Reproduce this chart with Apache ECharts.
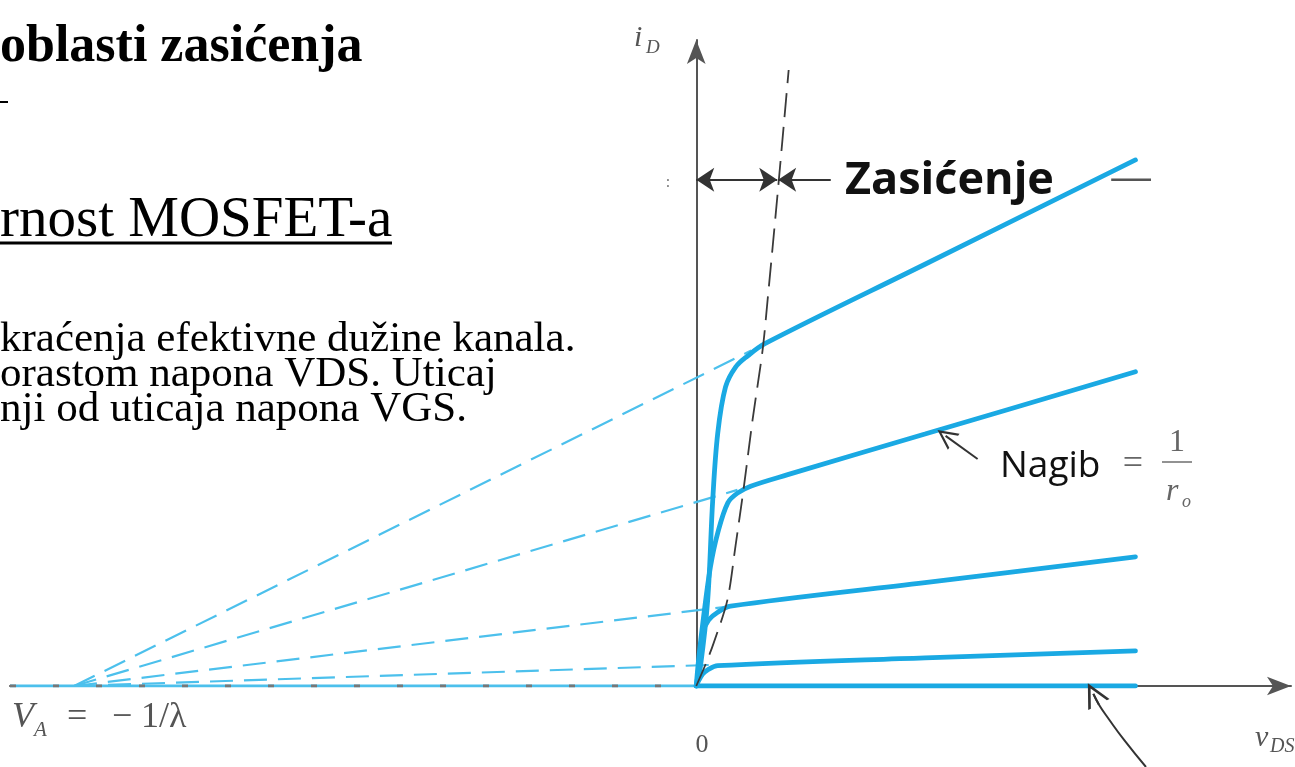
<!DOCTYPE html>
<html>
<head>
<meta charset="utf-8">
<script src="https://cdn.jsdelivr.net/npm/echarts@6/dist/echarts.min.js"></script>
<style>
html,body{margin:0;padding:0;background:#fff;}
#c{width:1295px;height:767px;}
</style>
</head>
<body>
<div id="c"></div>
<script>
// ---- data (arbitrary units: x = vDS, y = iD) ----
const vA = -13.6;          // V_A = -1/lambda
const vEnd = 9.6;          // end of drawn characteristics
const curve1X = [0, 0.09, 0.25, 0.36, 0.47, 0.64, 0.86, 1.12, 1.5, 5.0, 9.6];
const curve1Y = [0, 0.41, 1.86, 4.03, 5.48, 6.48, 6.91, 7.15, 7.42, 9.14, 11.40];
const curve2X = [0, 0.05, 0.16, 0.31, 0.47, 0.69, 0.90, 1.19, 2.0, 5.0, 9.6];
const curve2Y = [0, 0.56, 1.50, 2.58, 3.32, 3.97, 4.18, 4.33, 4.58, 5.46, 6.81];
const curve3X = [0, 0.03, 0.14, 0.27, 0.47, 0.75, 5.0, 9.6];
const curve3Y = [0, 0.20, 1.15, 1.43, 1.60, 1.73, 2.24, 2.80];
const curve4X = [0, 0.03, 0.14, 0.25, 0.47, 5.0, 9.6];
const curve4Y = [0, 0.07, 0.26, 0.35, 0.44, 0.61, 0.76];
const curve5X = [0, 9.6];
const curve5Y = [0, 0];
// extrapolated (dashed) lines: from V_A to the knee of each curve
const extrapEndX = [1.2, 0.9, 0.6, 0.3];
const extrapEndY = [7.27, 4.25, 1.71, 0.456];
// saturation boundary (black dashed)
const boundaryX = [0, 0.20, 0.38, 0.68, 0.86, 1.04, 1.23, 1.45, 1.56, 1.78, 2.02];
const boundaryY = [0, 0.46, 0.93, 1.86, 3.05, 4.31, 5.76, 7.28, 8.37, 10.69, 13.35];
// annotation arrows
const zasY = 10.97;
const zasBoundaryX = 1.77;
const zasRightX = 2.94;
const nagibFrom = [6.15, 4.92];
const nagibTo = [5.45, 5.42];
const cutoffArrowX = [9.83, 9.36, 9.02, 8.80, 8.68];
const cutoffArrowY = [-1.755, -1.180, -0.720, -0.400, -0.17];
const dashTickX = [9.07, 9.94];

const xMin = -15, xMax = 13, yMin = 0, yMax = 14;

const zip = (a, b) => a.map((v, i) => [v, b[i]]);
const solidBlue = '#1aa9e3';
const lightBlue = '#4cc0ec';
const grayAx = '#555';
const chevron = 'path://M10,0 L20,16 L17.5,16 L10,4 L2.5,16 L0,16 Z';

const chart = echarts.init(document.getElementById('c'), null, {renderer: 'canvas'});

function curve(xs, ys) {
  return {type: 'line', data: zip(xs, ys), showSymbol: false, symbol: 'none', smooth: 0.35,
    lineStyle: {color: solidBlue, width: 4.8, cap: 'round'}, z: 5, silent: true};
}
function dashed(i) {
  return {type: 'line', data: [[vA, 0], [extrapEndX[i], extrapEndY[i]]], symbol: 'none',
    lineStyle: {color: lightBlue, width: 2.2, type: [23, 11]}, z: 3, silent: true};
}
function arrow(coords, syms, size) {
  return {type: 'lines', coordinateSystem: 'cartesian2d', polyline: false,
    symbol: syms, symbolSize: size || 16, clip: false, silent: true, z: 8,
    lineStyle: {color: '#333', width: 2, opacity: 1, curveness: 0},
    data: [{coords: coords}]};
}

const serif = '"Liberation Serif", "Times New Roman", serif';
const sans = '"Open Sans", "Noto Sans", sans-serif';
function txt(x, y, text, font, fill, align) {
  return {type: 'text', x: x, y: y, silent: true, z: 20,
    style: {text: text, font: font, fill: fill || '#000', textAlign: align || 'left',
      textVerticalAlign: 'middle', align: align || 'left', verticalAlign: 'middle'}};
}
function seg(x1, y1, x2, y2, color, w) {
  return {type: 'line', silent: true, z: 20, shape: {x1: x1, y1: y1, x2: x2, y2: y2},
    style: {stroke: color, lineWidth: w}};
}

const n = cutoffArrowX.length;
const option = {
  animation: false,
  grid: {left: 10, right: 4, top: 40, bottom: 81, containLabel: false},
  xAxis: {type: 'value', min: xMin, max: xMax,
    axisLine: {show: true, onZero: true, symbol: ['none', 'arrow'], symbolSize: [14, 24], symbolOffset: [0, 0],
      lineStyle: {color: grayAx, width: 2}},
    axisTick: {show: false}, axisLabel: {show: false}, splitLine: {show: false}},
  yAxis: {type: 'value', min: yMin, max: yMax,
    axisLine: {show: true, onZero: true, symbol: ['none', 'arrow'], symbolSize: [14, 24], symbolOffset: [0, 0],
      lineStyle: {color: grayAx, width: 2}},
    axisTick: {show: false}, axisLabel: {show: false}, splitLine: {show: false}},
  series: [
    {type: 'line', data: [[xMin, 0], [0, 0]], symbol: 'none', lineStyle: {color: lightBlue, width: 3}, z: 2, silent: true},
    {type: 'line', data: [[xMin, 0], [0, 0]], symbol: 'none', lineStyle: {color: '#777', width: 3, type: [6, 37]}, z: 4, silent: true},
    dashed(0), dashed(1), dashed(2), dashed(3),
    curve(curve1X, curve1Y), curve(curve2X, curve2Y), curve(curve3X, curve3Y), curve(curve4X, curve4Y),
    curve(curve5X, curve5Y),
    {type: 'line', data: zip(boundaryX, boundaryY), symbol: 'none', smooth: 0.3,
      lineStyle: {color: '#3a3a3a', width: 1.8, type: [24, 10]}, z: 6, silent: true},
    arrow([[0, zasY], [zasBoundaryX, zasY]], ['arrow', 'arrow'], 18),
    arrow([[zasRightX, zasY], [zasBoundaryX + 0.02, zasY]], ['none', 'arrow'], 18),
    {type: 'line', data: [[dashTickX[0], zasY], [dashTickX[1], zasY]], symbol: 'none',
      lineStyle: {color: grayAx, width: 2.5}, silent: true},
    arrow([nagibFrom, nagibTo], ['none', chevron], 20),
    {type: 'line', data: zip(cutoffArrowX, cutoffArrowY), symbol: 'none', smooth: 0.5, clip: false, z: 8,
      lineStyle: {color: '#333', width: 2}, silent: true},
    arrow([[cutoffArrowX[n - 2], cutoffArrowY[n - 2]], [cutoffArrowX[n - 1], cutoffArrowY[n - 1]]], ['none', chevron], 24)
  ],
  graphic: [
    txt(0, 48, 'oblasti zasićenja', 'bold 52px ' + serif, '#000'),
    seg(0, 102, 8, 102, '#000', 2),
    txt(0, 221, 'rnost MOSFET-a', '57px ' + serif, '#000'),
    seg(0, 243, 392, 243, '#000', 3),
    txt(0, 340, 'kraćenja efektivne dužine kanala.', '43px ' + serif, '#000'),
    txt(0, 375, 'orastom napona VDS. Uticaj', '43px ' + serif, '#000'),
    txt(0, 410, 'nji od uticaja napona VGS.', '43px ' + serif, '#000'),
    txt(845, 181, 'Zasićenje', 'bold 45px ' + sans, '#111'),
    txt(1000, 466, 'Nagib', '37px ' + sans, '#111'),
    txt(1133, 465, '=', '36px ' + serif, '#666', 'center'),
    txt(1177, 443, '1', '32px ' + serif, '#666', 'center'),
    seg(1162, 462, 1192, 462, '#777', 1.6),
    txt(1166, 492, 'r', 'italic 32px ' + serif, '#666'),
    txt(1182, 502, 'o', 'italic 18px ' + serif, '#666'),
    txt(668, 183, ':', '16px ' + serif, '#777', 'center'),
    txt(634, 38, 'i', 'italic 30px ' + serif, '#555'),
    txt(646, 48, 'D', 'italic 19px ' + serif, '#555'),
    txt(702, 745, '0', '26px ' + serif, '#555', 'center'),
    txt(1255, 738, 'v', 'italic 30px ' + serif, '#555'),
    txt(1270, 747, 'DS', 'italic 20px ' + serif, '#555'),
    txt(12, 718, 'V', 'italic 36px ' + serif, '#555'),
    txt(34, 730, 'A', 'italic 21px ' + serif, '#555'),
    txt(67, 718, '=', '36px ' + serif, '#555'),
    txt(112, 718, '−', '36px ' + serif, '#555'),
    txt(141, 718, '1/λ', '36px ' + serif, '#555')
  ]
};
chart.setOption(option);
</script>
</body>
</html>
